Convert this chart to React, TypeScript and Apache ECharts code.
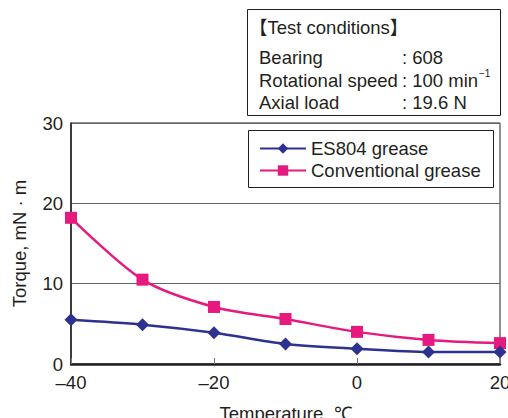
import React, { useEffect, useRef } from "react";
import * as echarts from "echarts";

const temperatures = [-40, -30, -20, -10, 0, 10, 20];
const es804 = [5.5, 4.9, 3.9, 2.5, 1.9, 1.5, 1.5];
const conventional = [18.2, 10.5, 7.1, 5.6, 4.0, 3.0, 2.6];
const seriesNames = ["ES804 grease", "Conventional grease"];
const conditionLabels = ["Bearing", "Rotational speed", "Axial load"];
const conditionValues = [": 608", ": 100 min", ": 19.6 N"];

const FONT = "'Liberation Sans', Arial, Helvetica, sans-serif";
const NAVY = "#2d3190";
const MAGENTA = "#e6197f";
const INK = "#231f20";
const FS = 18.5;

export default function App() {
  const ref = useRef<HTMLDivElement>(null);
  useEffect(() => {
    if (!ref.current) return;
    const chart = echarts.init(ref.current, undefined, { renderer: "svg" });
    const fmt = (v: number) => (v < 0 ? "\u2013" + Math.abs(v) : String(v));
    const lineY = [57, 80, 102];
    const graphics: any[] = [
      {
        type: "rect",
        shape: { x: 247.5, y: 9.5, width: 253, height: 106 },
        style: { fill: "#fff", stroke: INK, lineWidth: 1 },
      },
      {
        type: "text",
        x: 249,
        y: 27,
        style: {
          text: "\u3010Test conditions\u3011",
          font: `${FS}px ${FONT}, 'Noto Sans CJK JP'`,
          fill: INK,
          verticalAlign: "middle",
        },
      },
      ...conditionLabels.map((t, i) => ({
        type: "text",
        x: 259,
        y: lineY[i],
        style: { text: t, font: `${FS}px ${FONT}`, fill: INK, verticalAlign: "middle" },
      })),
      ...conditionValues.map((t, i) => ({
        type: "text",
        x: 402,
        y: lineY[i],
        style: { text: t, font: `${FS}px ${FONT}`, fill: INK, verticalAlign: "middle" },
      })),
      {
        type: "text",
        x: 479,
        y: 73,
        style: { text: "\u22121", font: `10px ${FONT}`, fill: INK, verticalAlign: "middle" },
      },
      {
        type: "rect",
        shape: { x: 248.5, y: 130.5, width: 245, height: 57 },
        style: { fill: "#fff", stroke: INK, lineWidth: 1 },
      },
    ];
    chart.setOption({
      animation: false,
      textStyle: { fontFamily: FONT },
      grid: {
        left: 71,
        right: 8,
        top: 123,
        bottom: 54,
        outerBoundsMode: "none",
        containLabel: false,
        show: true,
        borderColor: INK,
        borderWidth: 1,
        backgroundColor: "transparent",
      },
      graphic: graphics,
      legend: {
        data: seriesNames,
        left: 259,
        top: 139,
        orient: "vertical",
        itemWidth: 46,
        itemHeight: 13,
        itemGap: 3,
        padding: 0,
        textStyle: { fontSize: FS, color: INK, fontFamily: FONT },
        z: 10,
      },
      xAxis: {
        type: "value",
        min: -40,
        max: 20,
        interval: 20,
        name: "Temperature, \u2103",
        nameLocation: "middle",
        nameGap: 40,
        nameTextStyle: { fontSize: FS, color: INK, fontFamily: FONT },
        axisLine: { show: true, onZero: false, lineStyle: { color: INK, width: 2.5 } },
        axisTick: { show: true, inside: true, length: 6, lineStyle: { color: "#777", width: 1 } },
        axisLabel: { fontSize: FS, color: INK, margin: 9, formatter: fmt },
        splitLine: { show: false },
      },
      yAxis: {
        type: "value",
        min: 0,
        max: 30,
        interval: 10,
        name: "Torque, mN \u00b7 m",
        nameLocation: "middle",
        nameGap: 42,
        nameTextStyle: { fontSize: FS, color: INK, fontFamily: FONT },
        axisLine: { show: true, onZero: false, lineStyle: { color: INK, width: 1.5 } },
        axisTick: { show: false },
        axisLabel: { fontSize: FS, color: INK, margin: 8 },
        splitLine: { show: true, lineStyle: { color: "#666", width: 1 } },
      },
      series: [
        {
          name: seriesNames[0],
          type: "line",
          data: temperatures.map((t, i) => [t, es804[i]]),
          symbol: "diamond",
          symbolSize: 13,
          smooth: 0.3,
          color: NAVY,
          lineStyle: { color: NAVY, width: 2.5 },
          itemStyle: { color: NAVY },
          z: 4,
        },
        {
          name: seriesNames[1],
          type: "line",
          data: temperatures.map((t, i) => [t, conventional[i]]),
          symbol: "rect",
          symbolSize: 12,
          smooth: 0.3,
          color: MAGENTA,
          lineStyle: { color: MAGENTA, width: 2.5 },
          itemStyle: { color: MAGENTA },
          z: 3,
        },
      ],
    });
    return () => chart.dispose();
  }, []);
  return <div ref={ref} style={{ width: 508, height: 418, position: "absolute", left: 0, top: 0, background: "#fff" }} />;
}
